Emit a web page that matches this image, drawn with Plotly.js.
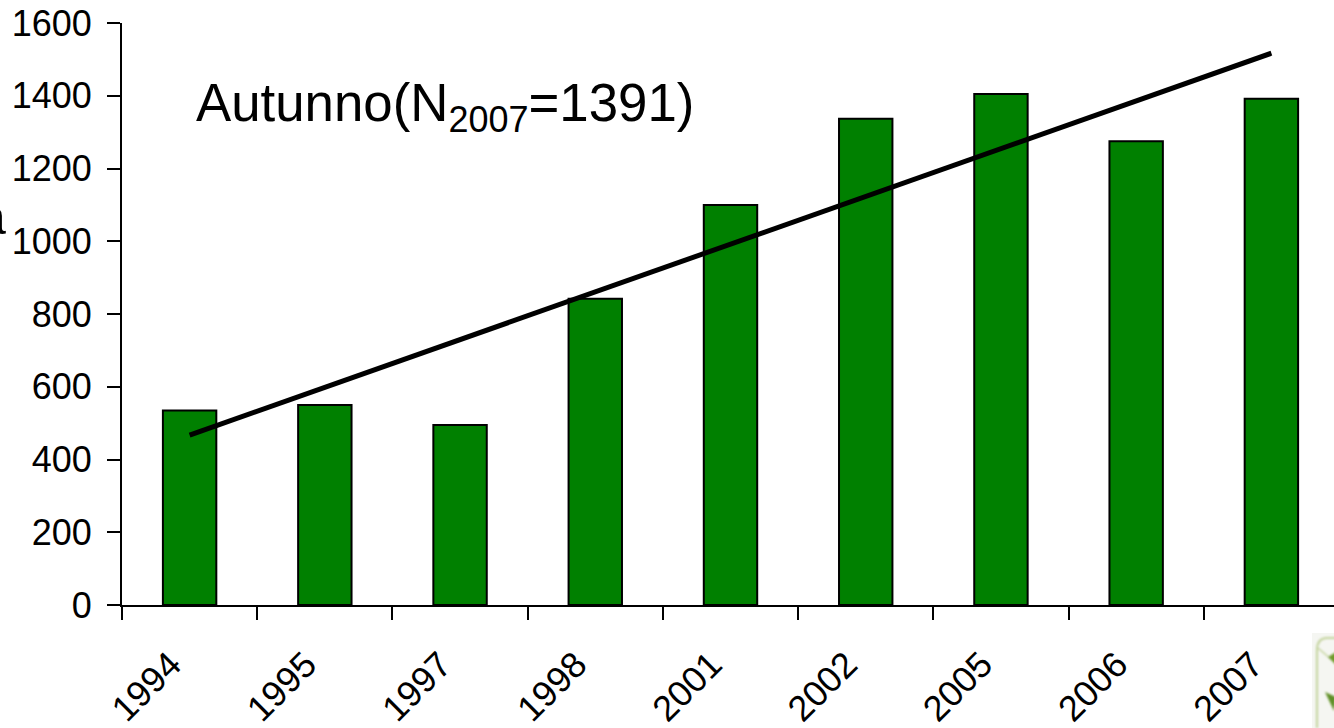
<!DOCTYPE html>
<html><head><meta charset="utf-8"><script src="https://cdn.plot.ly/plotly-3.0.1.min.js"></script>
<style>html,body{margin:0;padding:0;background:#fff;overflow:hidden}#c{width:1339px;height:728px}</style></head>
<body><div id="c"></div>
<script>
const years=['1994','1995','1997','1998','2001','2002','2005','2006','2007'];
const counts=[535,550,495,842,1100,1337,1405,1275,1392];
const trendX=['1994','2007'];
const trendY=[467,1517];
const yTicks=[0,200,400,600,800,1000,1200,1400,1600];
const font='Liberation Sans, Arial, sans-serif';
const W=1339,H=728,L=122,T=23,B=123;
const PW=W-L,PH=H-T-B;
const icon='<svg xmlns="http://www.w3.org/2000/svg" width="28" height="95" viewBox="0 0 28 95"><defs><filter id="b"><feGaussianBlur stdDeviation="0.8"/></filter></defs><rect width="28" height="95" fill="#f5f6f2"/><g filter="url(#b)"><path d="M5 95V17Q5 6 14 5H28" fill="none" stroke="#c3d39c" stroke-width="2"/><path d="M6 15L20 27" fill="none" stroke="#c3d39c" stroke-width="1.5"/><path d="M16 24L24 19V32Z" fill="#6f9a2c"/><path d="M13 59L24 64L22 78Z" fill="#5f8f25"/></g></svg>';
Plotly.newPlot('c',[
{type:'bar',x:years,y:counts,width:0.395,marker:{color:'#008000',line:{color:'#000',width:2}},hoverinfo:'x+y'},
{type:'scatter',mode:'lines',x:trendX,y:trendY,line:{color:'#000',width:5},hoverinfo:'skip'}
],{
width:W,height:H,showlegend:false,paper_bgcolor:'#fff',plot_bgcolor:'#fff',
margin:{l:L,r:0,t:T,b:B},
font:{family:font,color:'#000',size:36},
xaxis:{type:'category',range:[-0.5,8.5],tickangle:-45,ticks:'outside',ticklen:13,tickwidth:2,tickcolor:'#000',showline:true,linecolor:'#000',linewidth:2,showgrid:false,zeroline:false,tickfont:{size:36,family:font},tickson:'boundaries',ticklabelstandoff:22,ticklabelshift:-19},
yaxis:{range:[0,1600],tickvals:yTicks,ticks:'outside',ticklen:13,tickwidth:2,tickcolor:'#000',showline:true,linecolor:'#000',linewidth:2,showgrid:false,zeroline:false,tickfont:{size:36,family:font},ticklabelstandoff:8},
images:[{source:'data:image/svg+xml;utf8,'+encodeURIComponent(icon),xref:'paper',yref:'paper',x:(1312-L)/PW,y:1-(633-T)/PH,sizex:28/PW,sizey:95/PH,sizing:'stretch',xanchor:'left',yanchor:'top',layer:'above'}],
annotations:[
{xref:'paper',yref:'paper',x:(194-L)/PW,y:1-(107-T)/PH,xanchor:'left',yanchor:'middle',showarrow:false,text:'Autunno(N<sub><span style="font-size:36px">2007</span></sub>=1391)',font:{size:52.8,family:font,color:'#000'}},
{xref:'paper',yref:'paper',x:(8-L)/PW,y:1-(217-T)/PH,xanchor:'right',yanchor:'middle',showarrow:false,text:'a',font:{size:50,family:font,color:'#000'}}
]
},{displayModeBar:false,responsive:false});
</script></body></html>
